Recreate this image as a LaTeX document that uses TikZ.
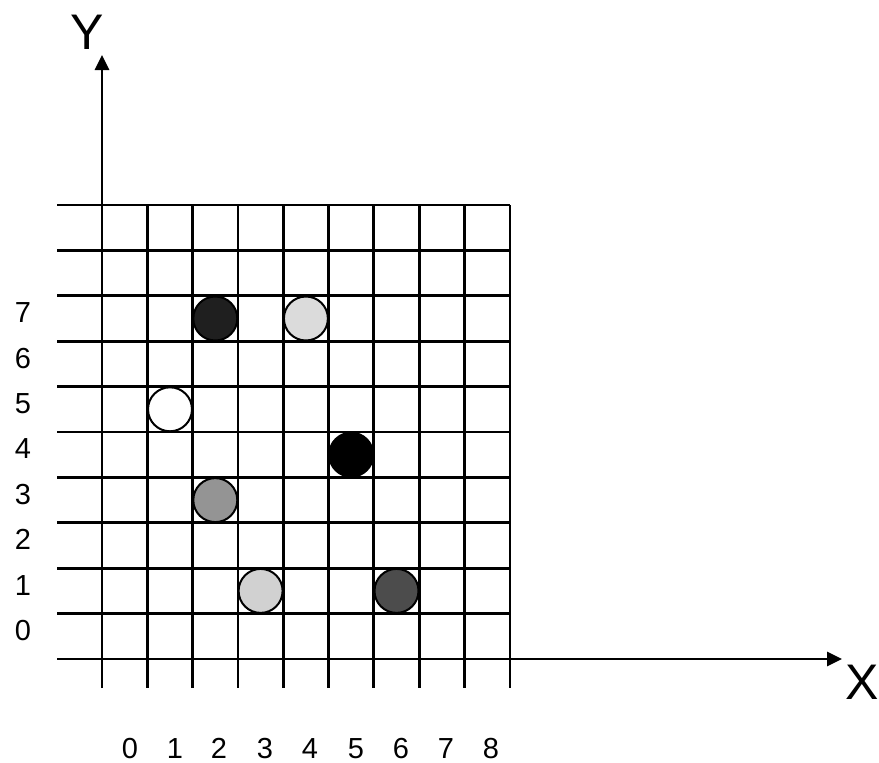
\documentclass[tikz,border=0pt]{standalone}
\usepackage{fontspec}
\setmainfont{Liberation Sans}
\usetikzlibrary{arrows.meta}
\begin{document}
\begin{tikzpicture}[x=1pt,y=-1pt,
  gridline/.style={line width=2.8pt,line cap=butt},
  axisline/.style={line width=2.8pt,-{Triangle[length=15pt,width=14pt]}},
  dot/.style={circle,draw=black,line width=2pt,minimum size=44pt,inner sep=0pt},
  tick/.style={font=\fontsize{29}{32}\selectfont,inner sep=0pt,anchor=base},
  axlabel/.style={font=\fontsize{50}{54}\selectfont,inner sep=0pt}]
\useasboundingbox (0,0) rectangle (879,763);
% horizontal grid lines
\foreach \y in {205,250.4,295.8,341.2,386.6,432,477.4,522.8,568.2,613.6}
  \draw[gridline] (57,\y) -- (510,\y);
% vertical grid lines
\foreach \x in {147.3,192.6,237.9,283.2,328.5,373.8,419.1,464.4,510}
  \draw[gridline] (\x,205) -- (\x,688);
% axes
\coordinate (ybot) at (102,688);
\coordinate (ytop) at (102,55);
\coordinate (xl) at (57,659);
\coordinate (xr) at (842,659);
\draw[axisline] (ybot) -- (ytop);
\draw[axisline] (xl) -- (xr);
\node[axlabel] (Y) at (87,32) {Y};
\node[axlabel] (X) at (862,682) {X};
% circles
\node[dot,fill=black!88] (c1) at (215.3,318.5) {};
\node[dot,fill=black!14] (c2) at (305.9,318.5) {};
\node[dot,fill=white]    (c3) at (170,409.3) {};
\node[dot,fill=black]    (c4) at (351.2,454.7) {};
\node[dot,fill=black!42] (c5) at (215.3,500.1) {};
\node[dot,fill=black!18] (c6) at (260.6,590.9) {};
\node[dot,fill=black!70] (c7) at (396.5,590.9) {};
% y tick labels
\foreach \k/\y in {0/640,1/595,2/549,3/504,4/458,5/413,6/368,7/322}
  \node[tick] (ly\k) at (23,\y) {\k};
% x tick labels
\foreach \k/\x in {0/130,1/175,2/219,3/265,4/310,5/356,6/401,7/446,8/491}
  \node[tick] (lx\k) at (\x,758) {\k};
\end{tikzpicture}
\end{document}
